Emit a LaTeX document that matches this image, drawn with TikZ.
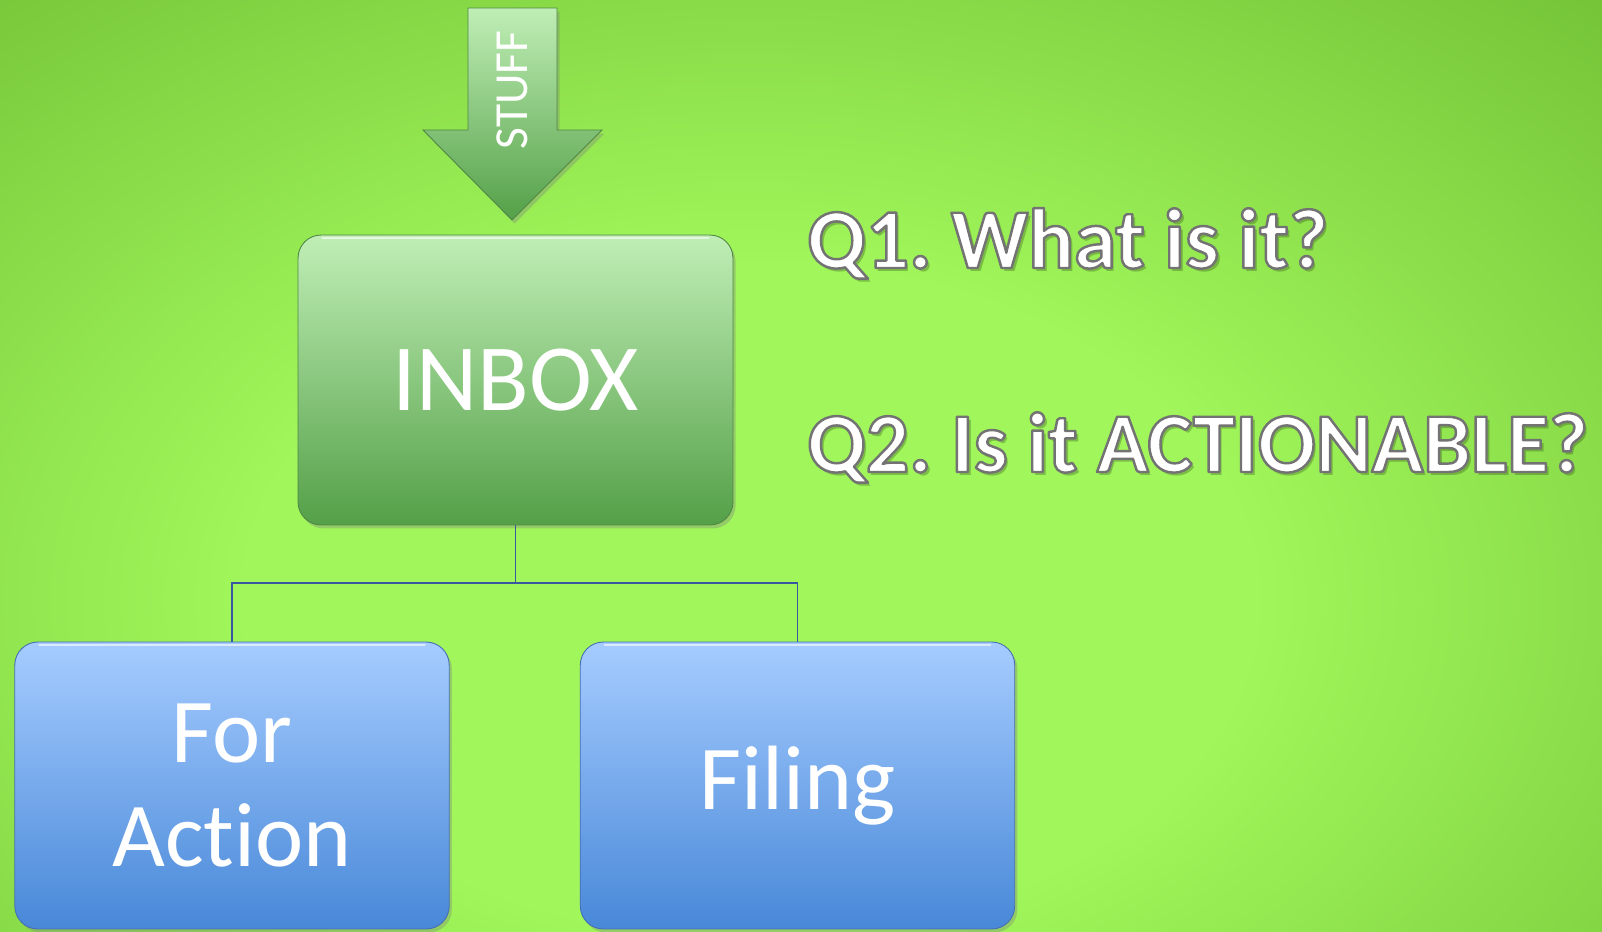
\documentclass[tikz,border=0pt]{standalone}
\usepackage{fontspec}
\setmainfont[Ligatures=NoCommon]{Carlito}
\usetikzlibrary{shadows}
\definecolor{bgin}{RGB}{160,246,90}
\definecolor{bgout}{RGB}{96,172,40}
\definecolor{gtop}{RGB}{192,238,182}
\definecolor{gbot}{RGB}{84,160,72}
\definecolor{gedge}{RGB}{80,135,70}
\definecolor{btop}{RGB}{166,204,255}
\definecolor{bbot}{RGB}{72,136,216}
\definecolor{bedge}{RGB}{70,110,180}
\definecolor{connc}{RGB}{58,88,160}
\pgfdeclareradialshading{bgshade}{\pgfpoint{0bp}{0bp}}{color(0bp)=(bgin); color(12bp)=(bgin); color(38bp)=(bgout); color(50bp)=(bgout)}
\newcommand{\outlined}[1]{\special{pdf:literal direct 2 Tr 1.4 w 0.45 0.45 0.45 RG 1 j}#1\special{pdf:literal direct 0 Tr}}
\tikzset{
  boxbase/.style={rounded corners=0.46cm, inner sep=0pt, text=white, line width=0.5pt,
    drop shadow={opacity=0.35, shadow xshift=1.5pt, shadow yshift=-2pt}},
  greenbox/.style={boxbase, draw=gedge, top color=gtop, bottom color=gbot,
    minimum width=8.7cm, minimum height=5.8cm, font=\fontsize{54}{60}\selectfont},
  bluebox/.style={boxbase, draw=bedge, top color=btop, bottom color=bbot,
    minimum width=8.69cm, minimum height=5.74cm, align=center, font=\fontsize{52}{59.5}\selectfont},
  conn/.style={draw=connc, line width=0.85pt},
  qtext/.style={anchor=base west, inner sep=0pt, text=white, font=\frenchspacing\bfseries\fontsize{48.5}{60}\selectfont},
  qshadow/.style={qtext, text=black, opacity=0.22},
  hilite/.style={draw=white, opacity=0.6, line width=1.5pt, line cap=round},
}
\begin{document}
\begin{tikzpicture}[x=0.02cm,y=-0.02cm]
\useasboundingbox (0,0) rectangle (1602,931);
\begin{scope}
\clip (0,0) rectangle (1602,931);
\shade[shading=bgshade] (-300,-100) rectangle (1800,1300);
\end{scope}
% STUFF arrow
\shade[top color=gtop, bottom color=gbot, draw=gedge, line width=0.5pt,
  drop shadow={opacity=0.35, shadow xshift=1.5pt, shadow yshift=-2pt}]
  (468,8) -- (557,8) -- (557,130) -- (602,130) -- (512,220) -- (423,130) -- (468,130) -- cycle;
\node[rotate=90, text=white, font=\fontsize{27}{30}\selectfont, inner sep=0pt] (stuff) at (512,90) {STUFF};
% boxes
\node[greenbox] (inbox) at (515.5,380) {INBOX};
\node[bluebox] (action) at (232,785.5) {For\\Action};
\node[bluebox] (filing) at (797.5,785.5) {Filing};
% top highlights
\draw[hilite] ([xshift=0.5cm,yshift=-2pt]inbox.north west) -- ([xshift=-0.5cm,yshift=-2pt]inbox.north east);
\draw[hilite] ([xshift=0.5cm,yshift=-2pt]action.north west) -- ([xshift=-0.5cm,yshift=-2pt]action.north east);
\draw[hilite] ([xshift=0.5cm,yshift=-2pt]filing.north west) -- ([xshift=-0.5cm,yshift=-2pt]filing.north east);
% connectors
\coordinate (junc) at (515.5,583);
\draw[conn] (inbox.south) -- (junc);
\draw[conn] (junc) -| (action.north);
\draw[conn] (junc) -| (filing.north);
% questions
\node[qshadow] (q1s) at (810,271) {Q1. What is it?};
\node[qtext] (q1) at (807,268) {\outlined{Q1. What is it?}};
\node[qshadow] (q2s) at (810,475) {Q2. Is it ACTIONABLE?};
\node[qtext] (q2) at (807,472) {\outlined{Q2. Is it ACTIONABLE?}};
\end{tikzpicture}
\end{document}
